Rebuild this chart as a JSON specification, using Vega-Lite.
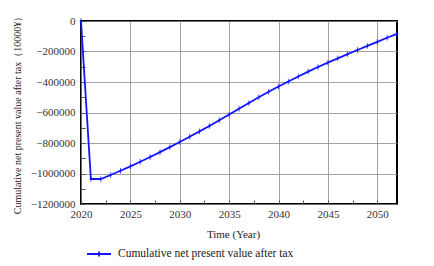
{
  "$schema": "https://vega.github.io/schema/vega-lite/v6.json",
  "width": 316,
  "height": 183,
  "autosize": {"type": "none"},
  "padding": {"left": 81, "top": 21, "right": 37, "bottom": 62},
  "background": "white",
  "config": {
    "font": "Times New Roman",
    "view": {"stroke": "black", "strokeWidth": 2},
    "axis": {"domain": false, "labelColor": "#333", "titleColor": "#222", "titleFontWeight": "normal", "labelFont": "Times New Roman", "titleFont": "Times New Roman", "labelFlush": false},
    "legend": {"labelFont": "Times New Roman"}
  },
  "data": {
    "values": [
      {"year": 2020, "npv": 0},
      {"year": 2021, "npv": -1036000},
      {"year": 2022, "npv": -1036000},
      {"year": 2023, "npv": -1010000},
      {"year": 2024, "npv": -982000},
      {"year": 2025, "npv": -953000},
      {"year": 2026, "npv": -923000},
      {"year": 2027, "npv": -892000},
      {"year": 2028, "npv": -860000},
      {"year": 2029, "npv": -827000},
      {"year": 2030, "npv": -793000},
      {"year": 2031, "npv": -759000},
      {"year": 2032, "npv": -724000},
      {"year": 2033, "npv": -688000},
      {"year": 2034, "npv": -651000},
      {"year": 2035, "npv": -613000},
      {"year": 2036, "npv": -575000},
      {"year": 2037, "npv": -538000},
      {"year": 2038, "npv": -500000},
      {"year": 2039, "npv": -464000},
      {"year": 2040, "npv": -430000},
      {"year": 2041, "npv": -397000},
      {"year": 2042, "npv": -364000},
      {"year": 2043, "npv": -332000},
      {"year": 2044, "npv": -302000},
      {"year": 2045, "npv": -273000},
      {"year": 2046, "npv": -245000},
      {"year": 2047, "npv": -217000},
      {"year": 2048, "npv": -190000},
      {"year": 2049, "npv": -163000},
      {"year": 2050, "npv": -137000},
      {"year": 2051, "npv": -110000},
      {"year": 2052, "npv": -84000}
    ]
  },
  "encoding": {
    "x": {
      "field": "year",
      "type": "quantitative",
      "scale": {"domain": [2020, 2052], "nice": false, "zero": false},
      "axis": {
        "title": "Time (Year)",
        "titleFontSize": 11,
        "titleX": 152,
        "titleY": 33,
        "titleBaseline": "alphabetic",
        "values": [2020, 2022.5, 2025, 2027.5, 2030, 2032.5, 2035, 2037.5, 2040, 2042.5, 2045, 2047.5, 2050],
        "labelExpr": "datum.value % 5 === 0 ? datum.value : ''",
        "format": "d",
        "labelFontSize": 11,
        "labelPadding": 8,
        "labelFlush": false,
        "tickSize": -4,
        "tickColor": "#555",
        "grid": true,
        "gridColor": "#8a8a8a",
        "gridWidth": 0.8,
        "gridOpacity": {"condition": {"test": "datum.value % 5 === 0", "value": 1}, "value": 0}
      }
    },
    "y": {
      "field": "npv",
      "type": "quantitative",
      "scale": {"domain": [-1200000, 0], "nice": false},
      "axis": {
        "title": "Cumulative net present value after tax（10000¥）",
        "titleFontSize": 10,
        "titlePadding": 8,
        "values": [0, -100000, -200000, -300000, -400000, -500000, -600000, -700000, -800000, -900000, -1000000, -1100000, -1200000],
        "labelExpr": "datum.value % 200000 === 0 ? format(datum.value, 'd') : ''",
        "labelFontSize": 11,
        "labelPadding": 10,
        "labelFlush": false,
        "tickSize": -4,
        "tickColor": "#555",
        "grid": true,
        "gridColor": "#8a8a8a",
        "gridWidth": 0.8,
        "gridOpacity": {"condition": {"test": "datum.value % 200000 === 0", "value": 1}, "value": 0}
      }
    }
  },
  "layer": [
    {
      "mark": {"type": "line", "strokeWidth": 1.8},
      "encoding": {
        "color": {
          "datum": "Cumulative net present value after tax",
          "type": "nominal",
          "scale": {"range": ["#1414ff"]},
          "legend": {
            "title": null,
            "orient": "none",
            "legendX": 5,
            "legendY": 220,
            "padding": 0,
            "labelFontSize": 11.5,
            "labelColor": "#222",
            "labelLimit": 400,
            "labelFont": "Times New Roman",
            "symbolType": "M-1,0L1,0M0,-0.2L0,0.2",
            "symbolSize": 576,
            "symbolStrokeWidth": 1.8,
            "symbolFillColor": "transparent",
            "labelOffset": 6
          }
        }
      }
    },
    {
      "mark": {
        "type": "point",
        "shape": "M0,-1L0,1M-0.5,0L0.5,0",
        "size": 30,
        "filled": false,
        "color": "#1414ff",
        "strokeWidth": 1,
        "opacity": 0.8
      }
    }
  ]
}
